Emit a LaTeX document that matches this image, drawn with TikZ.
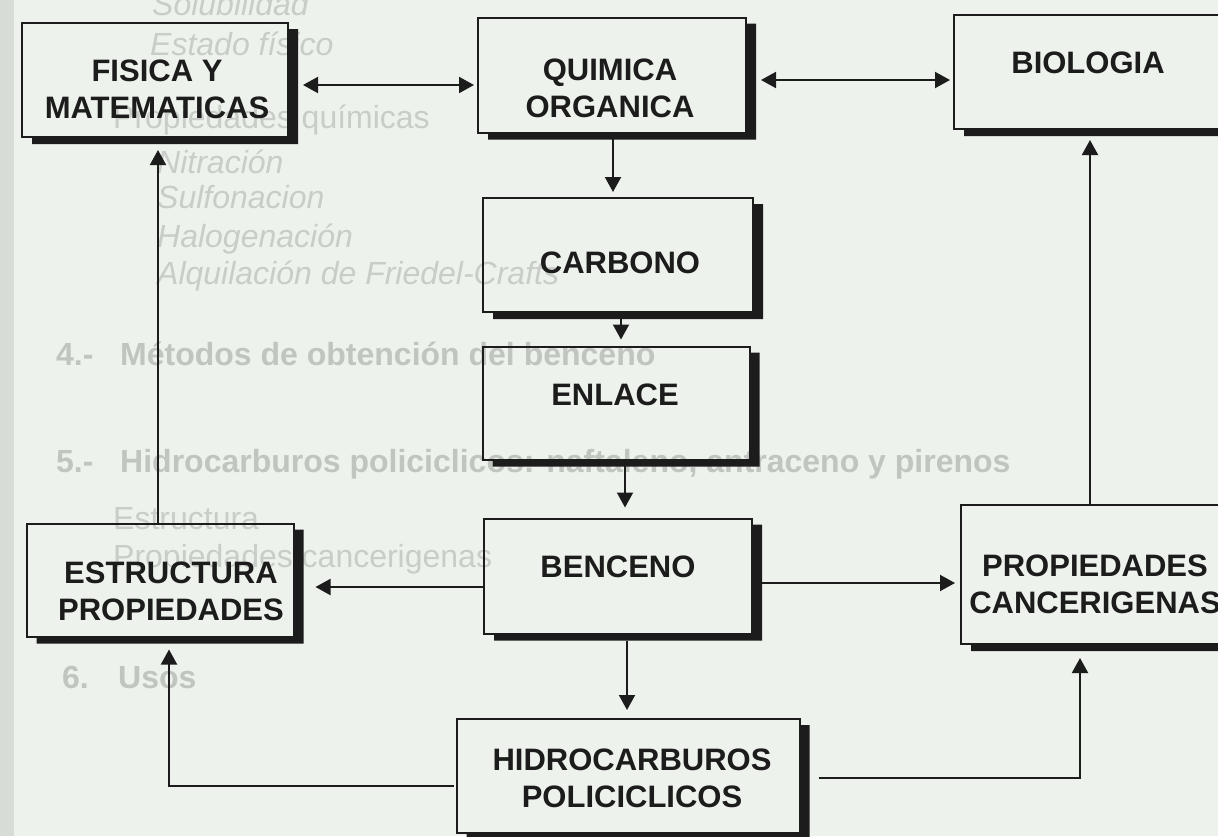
\documentclass[tikz,border=0pt]{standalone}
\usepackage{fontspec}
\setmainfont{Liberation Sans}
\usetikzlibrary{arrows.meta,calc}
\definecolor{paper}{RGB}{238,242,236}
\definecolor{ghost}{RGB}{200,205,200}
\definecolor{ghostb}{RGB}{192,197,192}
\definecolor{ink}{RGB}{28,28,28}
\newcommand\dropshade[1]{%
  \fill[ink] ($(#1.north east)+(0,6)$) -- ($(#1.north east)+(10,6)$) --
    ($(#1.south east)+(10,7)$) -- ($(#1.south west)+(10,7)$) --
    ($(#1.south west)+(10,0)$) -- (#1.south east) -- cycle;}
\begin{document}
\begin{tikzpicture}[x=1pt,y=-1pt,
  box/.style={draw=ink, line width=2pt, rectangle, inner sep=0pt, outer sep=0pt},
  btext/.style={text=ink, align=center, inner sep=0pt,
    font=\bfseries\fontsize{31}{37}\selectfont},
  ghosttext/.style={text=ghost, anchor=base west, inner sep=0pt,
    font=\fontsize{32}{38}\selectfont},
  ghostital/.style={ghosttext, font=\itshape\fontsize{32}{38}\selectfont},
  ghostbold/.style={ghosttext, text=ghostb, font=\bfseries\fontsize{32}{38}\selectfont},
  arr/.style={draw=ink, line width=2pt, -{Triangle[length=15pt,width=16pt]}},
  dbl/.style={draw=ink, line width=2pt,
    {Triangle[length=15pt,width=16pt]}-{Triangle[length=15pt,width=16pt]}}]
\useasboundingbox (0,0) rectangle (1218,836);
\fill[paper] (0,0) rectangle (1218,836);
\fill[ghost!60!paper] (0,0) rectangle (14,836);
\clip (0,0) rectangle (1218,836);

% show-through text of the underlying page
\node[ghostital] (g1) at (152,15) {Solubilidad};
\node[ghostital] (g2) at (150,55) {Estado físico};
\node[ghosttext] (g3) at (113,128) {Propiedades químicas};
\node[ghostital] (g4) at (157,173) {Nitración};
\node[ghostital] (g5) at (157,208) {Sulfonacion};
\node[ghostital] (g6) at (157,247) {Halogenación};
\node[ghostital] (g7) at (157,284) {Alquilación de Friedel-Crafts};
\node[ghostbold] (g8) at (56,365) {4.-};
\node[ghostbold] (g9) at (120,365) {Métodos de obtención del benceno};
\node[ghostbold] (g10) at (56,472) {5.-};
\node[ghostbold] (g11) at (120,472) {Hidrocarburos policiclicos: naftaleno, antraceno y pirenos};
\node[ghosttext] (g12) at (113,529) {Estructura};
\node[ghosttext] (g13) at (113,567) {Propiedades cancerigenas};
\node[ghostbold] (g14) at (62,688) {6.};
\node[ghostbold] (g15) at (118,688) {Usos};

% boxes
\node[box, minimum width=266pt, minimum height=114pt] (fis) at (155,80) {};
\node[box, minimum width=268pt, minimum height=115pt] (quim) at (612,75) {};
\node[box, minimum width=276pt, minimum height=114pt] (bio) at (1092,72) {};
\node[box, minimum width=270pt, minimum height=114pt] (carb) at (618,255) {};
\node[box, minimum width=267pt, minimum height=113pt] (enl) at (616,403) {};
\node[box, minimum width=268pt, minimum height=115pt] (benc) at (618,576) {};
\node[box, minimum width=267pt, minimum height=113pt] (estr) at (160,580) {};
\node[box, minimum width=274pt, minimum height=139pt] (prop) at (1098,574.5) {};
\node[box, minimum width=343pt, minimum height=114pt] (hid) at (628,776) {};
\foreach \b in {fis,quim,bio,carb,enl,benc,estr,prop,hid}{\dropshade{\b}}

% box texts
\node[btext] (fist) at (157,89) {FISICA Y\\MATEMATICAS};
\node[btext] (quimt) at (610,88) {QUIMICA\\ORGANICA};
\node[btext] (biot) at (1088,63) {BIOLOGIA};
\node[btext] (carbt) at (620,263) {CARBONO};
\node[btext] (enlt) at (615,395) {ENLACE};
\node[btext] (benct) at (618,567) {BENCENO};
\node[btext] (estrt) at (171,591) {ESTRUCTURA\\PROPIEDADES};
\node[btext] (propt) at (1095,584) {PROPIEDADES\\CANCERIGENAS};
\node[btext] (hidt) at (632,778) {HIDROCARBUROS\\POLICICLICOS};

% connectors
\draw[dbl] ($(fis.east)+(15,5)$) -- ($(quim.west)+(-4,10)$);
\draw[dbl] ($(quim.east)+(15,5)$) -- ($(bio.west)+(-4,8)$);
\draw[arr] ($(quim.south)+(1,5)$) -- ($(carb.north)+(-5,-6)$);
\draw[arr] ($(carb.south)+(3,6)$) -- ($(enl.north)+(5,-7)$);
\draw[arr] ($(enl.south)+(9,5)$) -- ($(benc.north)+(7,-11)$);
\draw[arr] ($(benc.west)+(0,11)$) -- ($(estr.east)+(22,7)$);
\draw[arr] ($(benc.east)+(10,7)$) -- ($(prop.west)+(-6,8.5)$);
\draw[arr] ($(benc.south)+(9,7)$) -- ($(hid.north)+(-1,-9)$);
\draw[arr] ($(estr.north)+(-2,0)$) -- ($(fis.south)+(3,13)$);
\draw[arr] ($(hid.west)+(-3,10)$) -| ($(estr.south)+(9,13)$);
\draw[arr] ($(hid.east)+(19,2)$) -| ($(prop.south)+(-18,14)$);
\draw[arr] ($(prop.north)+(-8,0)$) -- ($(bio.south)+(-2,11)$);
\end{tikzpicture}
\end{document}
